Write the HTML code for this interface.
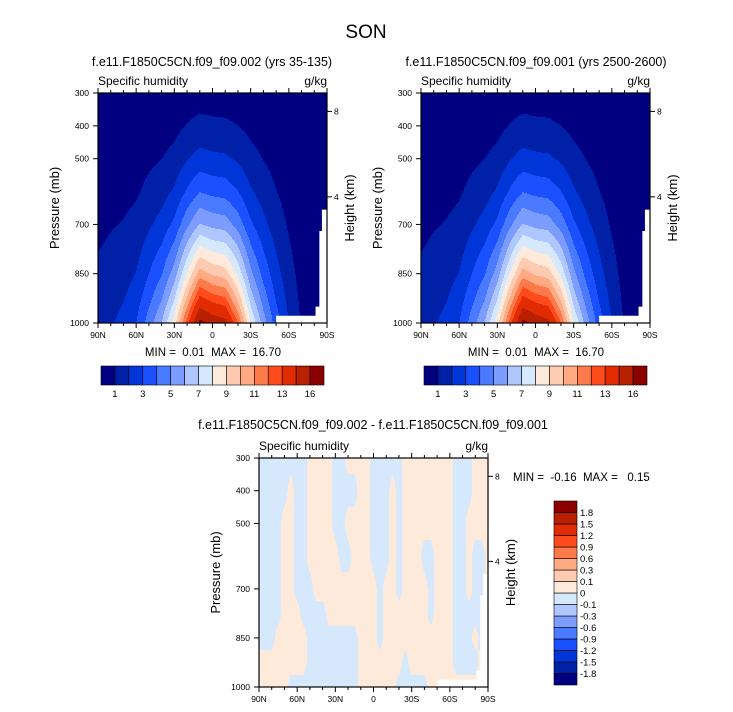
<!DOCTYPE html>
<html><head><meta charset="utf-8">
<style>
html,body{margin:0;padding:0;background:#fff;}
svg{display:block;font-family:"Liberation Sans",Arial,sans-serif;}
text{white-space:pre;}
</style></head>
<body>
<svg id="root" width="733" height="712" viewBox="0 0 733 712" xmlns="http://www.w3.org/2000/svg">
<rect width="733" height="712" fill="#fff"/>
<text x="366" y="38" font-size="19" text-anchor="middle">SON</text>
</svg>
<script>
// ---------- data ----------
const qLats = [90,80,70,60,50,40,30,20,10,0,-10,-20,-30,-40,-50,-60,-70,-80,-90];
const qPres = [1000,925,850,700,600,500,400,300];
// rows: one per latitude (90N -> 90S), values at qPres
const qGridA = [
 [1.6,1.37,1.16,0.78,0.58,0.4,0.26,0.14],
 [1.9,1.63,1.37,0.93,0.68,0.48,0.3,0.17],
 [2.3,1.94,1.61,1.05,0.75,0.5,0.31,0.16],
 [3.0,2.49,2.03,1.28,0.88,0.57,0.33,0.17],
 [4.5,3.7,3.0,1.85,1.26,0.8,0.45,0.22],
 [6.0,4.9,3.93,2.37,1.59,0.99,0.55,0.26],
 [8.5,6.89,5.48,3.24,2.14,1.31,0.71,0.33],
 [12.5,10.1,8.06,4.76,3.15,1.93,1.05,0.49],
 [16.5,13.3,10.5,6.07,3.96,2.38,1.27,0.56],
 [15.5,12.5,9.83,5.7,3.72,2.23,1.19,0.53],
 [15.0,12.1,9.51,5.52,3.6,2.16,1.16,0.51],
 [12.0,9.72,7.74,4.57,3.02,1.85,1.01,0.47],
 [8.0,6.53,5.24,3.16,2.12,1.32,0.74,0.35],
 [5.5,4.53,3.66,2.26,1.53,0.97,0.56,0.27],
 [3.5,2.9,2.37,1.49,1.03,0.66,0.39,0.2],
 [2.0,1.67,1.38,0.88,0.62,0.41,0.24,0.13],
 [0.9,0.76,0.63,0.41,0.29,0.2,0.12,0.06],
 [0.4,0.34,0.29,0.2,0.14,0.1,0.06,0.04],
 [0.3,0.26,0.22,0.15,0.11,0.08,0.05,0.03]
];
const qGridB = qGridA.map(r => r.slice());
const qLevels = [1,2,3,4,5,6,7,8,9,10,11,12,13,14.5,16];
const qLabels = ["1","3","5","7","9","11","13","16"];
const dLats = [90,85,80,75,70,65,60,55,50,45,40,35,30,25,20,15,10,5,0,-5,-10,-15,-20,-25,-30,-35,-40,-45,-50,-55,-60,-65,-70,-75,-80,-85,-90];
const dPres = [300,400,500,600,700,775,850,925,1000];
// rows: one per pressure level, values along dLats (groups of 5)
const dGrid = [
 [-.05,-.05,-.05,-.05,-.05, -.05,-.05,-.05,.05,.05, .05,.05,-.05,-.05,.05, .05,.05,.05,-.05,-.05, -.05,-.05,-.05,.05,.05, .05,.05,.05,.05,.05, .05,-.05,-.05,-.05,.05, .05,.05],
 [-.05,-.05,-.05,-.05,-.05, .05,-.05,-.05,.05,.05, .05,.05,-.05,-.05,-.05, -.05,.05,.05,-.05,-.05, -.05,.05,-.05,.05,.05, .05,.05,.05,.05,.05, .05,-.05,-.05,-.05,.05, .05,.05],
 [-.05,-.05,-.05,-.05,.05, .05,-.05,-.05,.05,.05, .05,.05,-.05,-.05,.05, .05,.05,.05,-.05,-.05, -.05,.05,-.05,.05,.05, .05,.05,.05,.05,.05, .05,-.05,-.05,.05,.05, .05,.05],
 [-.05,-.05,-.05,-.05,.05, .05,-.05,-.05,.05,.05, .05,.05,.05,-.05,-.05, .05,.05,.05,-.05,-.05, -.05,.05,-.05,.05,.05, .05,-.05,-.05,.05,.05, .05,-.05,-.05,.05,-.05, -.05,.05],
 [-.05,-.05,-.05,-.05,.05, .05,-.05,-.05,-.05,.05, .05,.05,.05,.05,.05, .05,.05,.05,.05,-.05, .05,.05,-.05,.05,.05, .05,.05,-.05,.05,.05, .05,-.05,-.05,.05,-.05, -.05,.05],
 [-.05,-.05,-.05,-.05,.05, .05,.05,-.05,-.05,-.05, -.05,.05,.05,.05,.05, .05,.05,.05,.05,-.05, .05,.05,.05,.05,.05, .05,.05,-.05,.05,.05, .05,-.05,-.05,-.05,-.05, -.05,.05],
 [-.05,-.05,-.05,.05,.05, .05,.05,.05,-.05,-.05, -.05,-.05,-.05,-.05,-.05, -.05,.05,.05,.05,-.05, .05,.05,.05,.05,.05, .05,.05,.05,.05,.05, .05,-.05,-.05,-.05,.05, -.05,-.05],
 [.05,.05,.05,.05,.05, .05,.05,.05,-.05,-.05, -.05,-.05,-.05,-.05,-.05, -.05,.05,.05,.05,.05, .05,.05,.05,-.05,.05, .05,.05,.05,.05,.05, .05,-.05,-.05,-.05,-.05, .05,.05],
 [.05,.05,.05,.05,.05, -.05,-.05,-.05,-.05,-.05, -.05,-.05,-.05,-.05,-.05, -.05,.05,.05,.05,.05, .05,.05,-.05,-.05,-.05, -.05,-.05,.05,.05,.05, .05,.05,.05,.05,.05, .05,.05]
];
const dLevels = [-1.8,-1.5,-1.2,-0.9,-0.6,-0.3,-0.1,0,0.1,0.3,0.6,0.9,1.2,1.5,1.8];
const dLabels = ["-1.8","-1.5","-1.2","-0.9","-0.6","-0.3","-0.1","0","0.1","0.3","0.6","0.9","1.2","1.5","1.8"];
const colors = ['#000080','#0020a8','#0035d8','#1a50ff','#4a7aff','#7c9dff','#afc6ff','#d6e8fb','#feeadb','#ffcbb0','#ffaa82','#ff7a4a','#ff4b1c','#e02c00','#b82000','#8b0000'];
const latTicks = [90,60,30,0,-30,-60,-90];
const latTickLabels = ["90N","60N","30N","0","30S","60S","90S"];
const presTicks = [300,400,500,700,850,1000];
const hgtTicks = [8,4];
const hgtPres = [356,616];
const maskPoly = [[-50,1000],[-50,978],[-81,978],[-81,950],[-84,950],[-84,720],[-86,720],[-86,655],[-90,655],[-90,1000]];

// ---------- drawing ----------
const NS = "http://www.w3.org/2000/svg";
const root = document.getElementById('root');
function el(tag, attrs, parent, txt){
  const e = document.createElementNS(NS, tag);
  for (const k in attrs) e.setAttribute(k, attrs[k]);
  if (txt !== undefined) e.textContent = txt;
  (parent || root).appendChild(e);
  return e;
}
function bracket(arr, v){
  for (let i=0;i<arr.length-1;i++){
    const a=arr[i], b=arr[i+1];
    const lo=Math.min(a,b), hi=Math.max(a,b);
    if (v>=lo && v<=hi){ return [i,(v-a)/(b-a)]; }
  }
  return [arr.length-2,1];
}
function levelIndex(v, levels){ let k=0; while(k<levels.length && v>=levels[k]) k++; return k; }

function panel(x0,y0,w,h, sample, levels, name){
  const g = el('g',{},root);
  
  
  const xOf = lat => x0 + (90-lat)/180*w;
  const yOf = p => y0 + (p-300)/700*h;
  for (let py=0; py<h; py++){
    const p = 300 + (py+0.5)/h*700;
    let start=0, cur=-1;
    for (let px=0; px<=w; px++){
      let k=-2;
      if (px<w){ const lat = 90-(px+0.5)/w*180; k = levelIndex(sample(lat,p), levels); }
      if (k!==cur){
        if (cur>=0){
          const r = el('rect',{x:x0+start,y:y0+py,width:px-start,height:1.05,fill:colors[cur]},g);
          
          
        }
        cur=k; start=px;
      }
    }
  }
  const mk = el('polygon',{points:maskPoly.map(q=>xOf(q[0])+','+yOf(q[1])).join(' '),fill:'#fff'},g);
  
  
  const fr = el('rect',{x:x0,y:y0,width:w,height:h,fill:'none',stroke:'#000','stroke-width':1.2},g);
  
  
  for (let lat=90; lat>=-90; lat-=10){
    const major = lat%30===0, len = major?5:3, x=xOf(lat);
    el('line',{x1:x,x2:x,y1:y0+h,y2:y0+h+len,stroke:'#000','stroke-width':1},g);
    el('line',{x1:x,x2:x,y1:y0,y2:y0-len,stroke:'#000','stroke-width':1},g);
  }
  latTicks.forEach((lat,i)=>{
    const t = el('text',{x:xOf(lat),y:y0+h+15,'font-size':8.5,'text-anchor':'middle'},g,latTickLabels[i]);
    
    
  });
  presTicks.forEach(p=>{
    const y=yOf(p);
    el('line',{x1:x0-5,x2:x0,y1:y,y2:y,stroke:'#000','stroke-width':1},g);
    const t = el('text',{x:x0-9,y:y+3,'font-size':8.5,'text-anchor':'end'},g,String(p));
    
    
  });
  hgtTicks.forEach((hk,i)=>{
    const y=yOf(hgtPres[i]);
    el('line',{x1:x0+w,x2:x0+w+5,y1:y,y2:y,stroke:'#000','stroke-width':1},g);
    const t = el('text',{x:x0+w+7,y:y+3,'font-size':8.5},g,String(hk));
    
    
  });
  const a1 = el('text',{x:x0,y:y0-8,'font-size':12},g,'Specific humidity');
  
  
  const a2 = el('text',{x:x0+w,y:y0-8,'font-size':12,'text-anchor':'end'},g,'g/kg');
  
  
  const yl = el('text',{x:0,y:0,'font-size':13,'text-anchor':'middle',transform:`translate(${x0-39},${y0+h/2}) rotate(-90)`},g,'Pressure (mb)');
  
  
  const hl = el('text',{x:0,y:0,'font-size':13,'text-anchor':'middle',transform:`translate(${x0+w+27},${y0+h/2}) rotate(-90)`},g,'Height (km)');
  
  
  return g;
}
function sampleQ(grid){
  return (lat,p)=>{
    const [i,t]=bracket(qLats,lat), [j,u]=bracket(qPres,p);
    const a=grid[i][j]*(1-u)+grid[i][j+1]*u, b=grid[i+1][j]*(1-u)+grid[i+1][j+1]*u;
    return a*(1-t)+b*t;
  };
}
function sampleD(lat,p){
  const [i,t]=bracket(dLats,lat), [j,u]=bracket(dPres,p);
  const a=dGrid[j][i]*(1-t)+dGrid[j][i+1]*t, b=dGrid[j+1][i]*(1-t)+dGrid[j+1][i+1]*t;
  return a*(1-u)+b*u;
}
function hColorbar(x0,y0,w,h,name){
  const g=el('g',{},root);
  
  
  const bw=w/colors.length;
  colors.forEach((c,i)=>{
    const r=el('rect',{x:x0+i*bw,y:y0,width:bw,height:h,fill:c,stroke:'#000','stroke-width':0.6},g);
    
    
  });
  qLabels.forEach((lb,i)=>{
    const t=el('text',{x:x0+(2*i+1)*bw,y:y0+h+12,'font-size':9.5,'text-anchor':'middle'},g,lb);
    
    
  });
}
function vColorbar(x0,y0,w,h,name){
  const g=el('g',{},root);
  
  
  const bh=h/colors.length;
  colors.forEach((c,i)=>{
    const r=el('rect',{x:x0,y:y0+h-(i+1)*bh,width:w,height:bh,fill:c,stroke:'#000','stroke-width':0.6},g);
    
    
  });
  dLabels.forEach((lb,i)=>{
    const t=el('text',{x:x0+w+3,y:y0+h-(i+1)*bh+3.5,'font-size':9.5},g,lb);
    
    
  });
}
function label(x,y,size,txt,name,anchor){
  const t=el('text',{x:x,y:y,'font-size':size,'text-anchor':anchor||'middle'},root,txt);
  
  
}

panel(98,93,229,230,sampleQ(qGridA),qLevels,'panel-run-002');
panel(421,93,229,230,sampleQ(qGridB),qLevels,'panel-run-001');
panel(259,458,229,229,sampleD,dLevels,'panel-difference');
label(212,66,12.5,'f.e11.F1850C5CN.f09_f09.002 (yrs 35-135)','panel-title-002');
label(536,66,12.5,'f.e11.F1850C5CN.f09_f09.001 (yrs 2500-2600)','panel-title-001');
label(373,429,12.5,'f.e11.F1850C5CN.f09_f09.002 - f.e11.F1850C5CN.f09_f09.001','panel-title-diff');
label(213,356,11.5,'MIN =  0.01  MAX =  16.70','minmax-002');
label(536,356,11.5,'MIN =  0.01  MAX =  16.70','minmax-001');
label(513,481,11.5,'MIN =  -0.16  MAX =   0.15','minmax-diff','start');
hColorbar(101,366,223,19,'colorbar-002');
hColorbar(424,366,223,19,'colorbar-001');
vColorbar(554,501,23,184,'colorbar-diff');
</script>
</body></html>
